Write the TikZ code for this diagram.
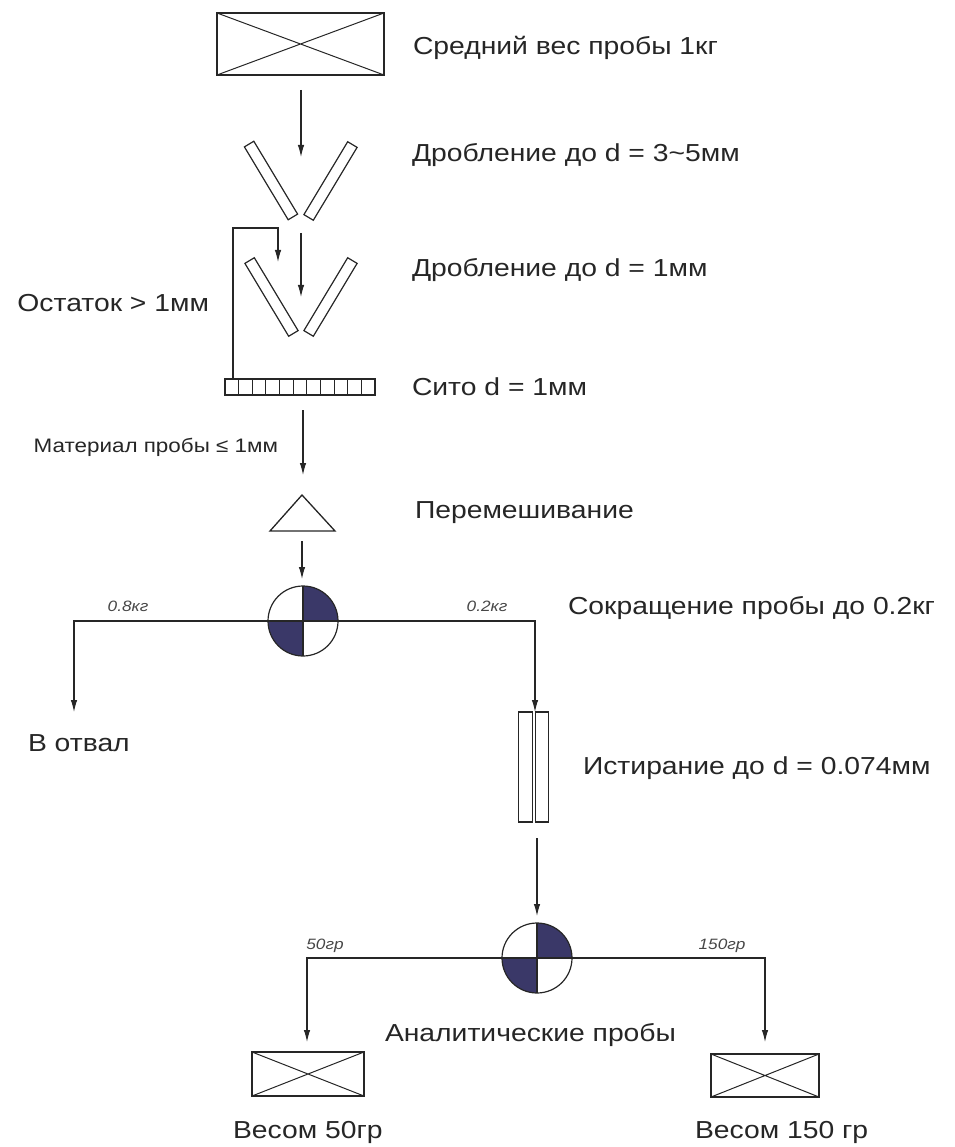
\documentclass[tikz,border=0pt]{standalone}
\usepackage{fontspec}
\setmainfont{Liberation Sans}[FakeStretch=1.15]
\usetikzlibrary{arrows.meta}
\definecolor{quad}{RGB}{58,56,104}
\definecolor{ink}{RGB}{38,38,38}
\begin{document}
\begin{tikzpicture}[x=1pt,y=-1pt,
  every node/.style={inner sep=0pt, outer sep=0pt},
  ln/.style={line width=1.1pt, draw=ink},
  arr/.style={ln, -{Latex[length=12pt,width=6.5pt]}},
  xbox/.style={draw=ink, line width=1.6pt, rectangle,
    path picture={\draw[ink, line width=1pt]
      (path picture bounding box.north west)--(path picture bounding box.south east)
      (path picture bounding box.south west)--(path picture bounding box.north east);}},
  bar/.style={draw=ink, line width=1.2pt, rectangle, minimum width=85pt, minimum height=11pt},
  roller/.style={draw=ink, line width=1.1pt, rectangle, minimum width=13.5pt, minimum height=110pt},
  divider/.style={draw=ink, line width=1.2pt, circle, minimum size=70pt,
    path picture={
      \fill[quad] (path picture bounding box.center) rectangle (path picture bounding box.north east);
      \fill[quad] (path picture bounding box.center) rectangle (path picture bounding box.south west);
      \draw[ink, line width=1.1pt]
        (path picture bounding box.north)--(path picture bounding box.south)
        (path picture bounding box.west)--(path picture bounding box.east);}},
  sievebox/.style={draw=ink, line width=1.1pt, rectangle, minimum width=150pt, minimum height=16pt,
    path picture={\foreach \i in {1,...,10}{
      \draw[ink, line width=1pt] ([xshift=\i*150pt/11]path picture bounding box.south west) -- ([xshift=\i*150pt/11]path picture bounding box.north west);}}},
  lab/.style={font=\fontsize{24.6}{28}\selectfont, text=ink, anchor=west},
  small/.style={font=\fontsize{19.5}{22}\selectfont, text=ink, anchor=west},
  wt/.style={font=\fontsize{15}{17}\selectfont\itshape, text=ink!85},
]
\useasboundingbox (0,0) rectangle (954,1147);

% shapes
\node[xbox, minimum width=167pt, minimum height=62pt] (top) at (300.5,44) {};
\node[bar, rotate=-59] (c1l) at (271,180.5) {};
\node[bar, rotate=59] (c1r) at (330.5,181) {};
\node[bar, rotate=-59] (c2l) at (271.5,297) {};
\node[bar, rotate=59] (c2r) at (330.5,297) {};
\node[sievebox] (sieve) at (300,387) {};
\draw[ln, line width=1.3pt] (302,495) coordinate (mixtop) -- (335,531) -- (270,531) -- cycle;
\coordinate (mixbot) at (302,531);
\node[divider] (d1) at (303,621) {};
\node[roller] (g1) at (525.5,767) {};
\node[roller] (g2) at (542,767) {};
\node[divider] (d2) at (537,958) {};
\node[xbox, minimum width=112pt, minimum height=44pt] (b50) at (308,1074) {};
\node[xbox, minimum width=108pt, minimum height=43pt] (b150) at (765,1075.5) {};

% connector coordinates
\coordinate (a1s) at (301,90);   \coordinate (a1e) at (301,157);
\coordinate (a2s) at (301,233);  \coordinate (a2e) at (301,297);
\coordinate (rcA) at (233,379);  \coordinate (rcB) at (278,228); \coordinate (rcC) at (278,262);
\coordinate (a3s) at (303,410);  \coordinate (a3e) at (303,475);
\coordinate (a4s) at (302,541);  \coordinate (a4e) at (302,579);
\coordinate (lk) at (74,621);    \coordinate (lkE) at (74,712);
\coordinate (rk) at (535,621);
\coordinate (a5s) at (537,838);  \coordinate (a5e) at (537,916);
\coordinate (l2) at (307,958);   \coordinate (l2E) at (307,1042);
\coordinate (r2) at (765,958);   \coordinate (r2E) at (765,1042);

% connectors
\draw[arr] (a1s) -- (a1e);
\draw[arr] (a2s) -- (a2e);
\draw[arr] (rcA) |- (rcB) -- (rcC);
\draw[arr] (a3s) -- (a3e);
\draw[arr] (a4s) -- (a4e);
\draw[arr] (d1.west) -- (lk) -- (lkE);
\draw[arr] (d1.east) -- (rk) -- (rk |- g1.north);
\draw[arr] (a5s) -- (a5e);
\draw[arr] (d2.west) -- (l2) -- (l2E);
\draw[arr] (d2.east) -- (r2) -- (r2E);

% labels
\node[lab] (t1) at (413,48) {Средний вес пробы 1кг};
\node[lab] (t2) at (412,155) {Дробление до d = 3\textasciitilde5мм};
\node[lab] (t3) at (412,270) {Дробление до d = 1мм};
\node[lab, anchor=east] (t4) at (209,303) {Остаток > 1мм};
\node[lab] (t5) at (412,387) {Сито d = 1мм};
\node[small, anchor=east] (t6) at (278,447) {Материал пробы ≤ 1мм};
\node[lab] (t7) at (415,513) {Перемешивание};
\node[lab] (t8) at (568,608) {Сокращение пробы до 0.2кг};
\node[wt] (w1) at (128,606) {0.8кг};
\node[wt] (w2) at (487,606) {0.2кг};
\node[lab] (t9) at (28,743) {В отвал};
\node[lab] (t10) at (583,768) {Истирание до d = 0.074мм};
\node[wt] (w3) at (325,946) {50гр};
\node[wt] (w4) at (722,946) {150гр};
\node[lab] (t11) at (385,1035) {Аналитические пробы};
\node[lab] (t12) at (233,1132) {Весом 50гр};
\node[lab] (t13) at (695,1132) {Весом 150 гр};
\end{tikzpicture}
\end{document}
